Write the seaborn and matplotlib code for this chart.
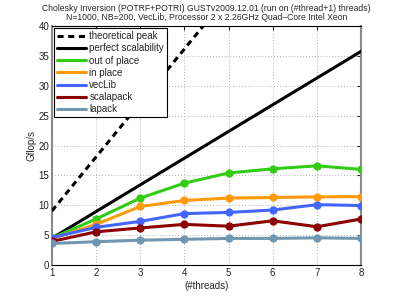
import numpy as np
import pandas as pd
import matplotlib
matplotlib.use('Agg')
import matplotlib.pyplot as plt
from matplotlib.lines import Line2D
import seaborn as sns

threads = [1, 2, 3, 4, 5, 6, 7, 8]
peak_per_core = 9.04
perfect_per_core = 4.47
out_of_place = [4.5, 7.7, 11.2, 13.7, 15.4, 16.1, 16.6, 16.0]
in_place = [4.4, 6.8, 9.8, 10.8, 11.2, 11.3, 11.4, 11.45]
veclib = [4.6, 6.3, 7.3, 8.6, 8.8, 9.2, 10.1, 9.95]
scalapack = [3.95, 5.55, 6.2, 6.8, 6.5, 7.4, 6.4, 7.7]
lapack = [3.6, 3.9, 4.15, 4.3, 4.45, 4.45, 4.55, 4.45]

series = [('out of place', out_of_place, '#33cc14'),
          ('in place', in_place, '#ff9a0a'),
          ('vecLib', veclib, '#4466ff'),
          ('scalapack', scalapack, '#8c0000'),
          ('lapack', lapack, '#7097b0')]

sns.set_style('white')
plt.rcParams['font.family'] = ['Liberation Sans', 'DejaVu Sans']

fig = plt.figure(figsize=(3.99, 2.99), dpi=100)
ax = fig.add_axes([0.13, 0.1137, 0.775, 0.7993])

x = np.array(threads, dtype=float)
sns.lineplot(x=x, y=peak_per_core * x, ax=ax, color='black', lw=2.2,
             linestyle=(0, (2.0, 1.5)), zorder=3)
sns.lineplot(x=x, y=perfect_per_core * x, ax=ax, color='black', lw=2.2, zorder=3)
for i, (name, vals, col) in enumerate(series):
    df = pd.DataFrame({'threads': threads, 'gflops': vals})
    sns.lineplot(data=df, x='threads', y='gflops', ax=ax, color=col, lw=2.2,
                 marker='o', markersize=5.2, markeredgecolor=col, zorder=4 + i)

ax.set_xlim(1, 8)
ax.set_ylim(0, 40)
ax.set_xticks(threads)
ax.set_yticks(np.arange(0, 41, 5))
ax.tick_params(direction='in', length=3, labelsize=7, pad=2, colors='#222222',
               top=True, right=True)
ax.grid(True, linestyle=(0, (1, 2.5)), color='#999999', lw=0.6)
for side in ['bottom', 'top']:
    ax.spines[side].set_color('black')
    ax.spines[side].set_linewidth(0.8)
for side in ['left', 'right']:
    ax.spines[side].set_color('#8a8a8a')
    ax.spines[side].set_linewidth(1.5)

ax.set_xlabel('(#threads)', fontsize=7, labelpad=2)
ax.set_ylabel('Gflop/s', fontsize=7, labelpad=1)
ax.set_title('Cholesky Inversion (POTRF+POTRI) GUSTv2009.12.01 (run on (#thread+1) threads)\n'
             'N=1000, NB=200, VecLib, Processor 2 x 2.26GHz Quad\u2013Core Intel Xeon',
             fontsize=6.2, pad=4, linespacing=1.12)

handles = [Line2D([], [], color='black', lw=2.2, linestyle=(0, (2.0, 1.5))),
           Line2D([], [], color='black', lw=2.2)]
handles += [Line2D([], [], color=c, lw=2.2) for _, _, c in series]
labels = ['theoretical peak', 'perfect scalability'] + [n for n, _, _ in series]
leg = ax.legend(handles, labels, loc='upper left', fontsize=7, frameon=True,
                fancybox=False, edgecolor='black', framealpha=1, handlelength=3.0,
                handletextpad=0.3, labelspacing=0.22, borderpad=0.3,
                borderaxespad=0.25)
leg.get_frame().set_linewidth(0.8)
leg.set_zorder(20)

fig.savefig('out.png', dpi=100)
